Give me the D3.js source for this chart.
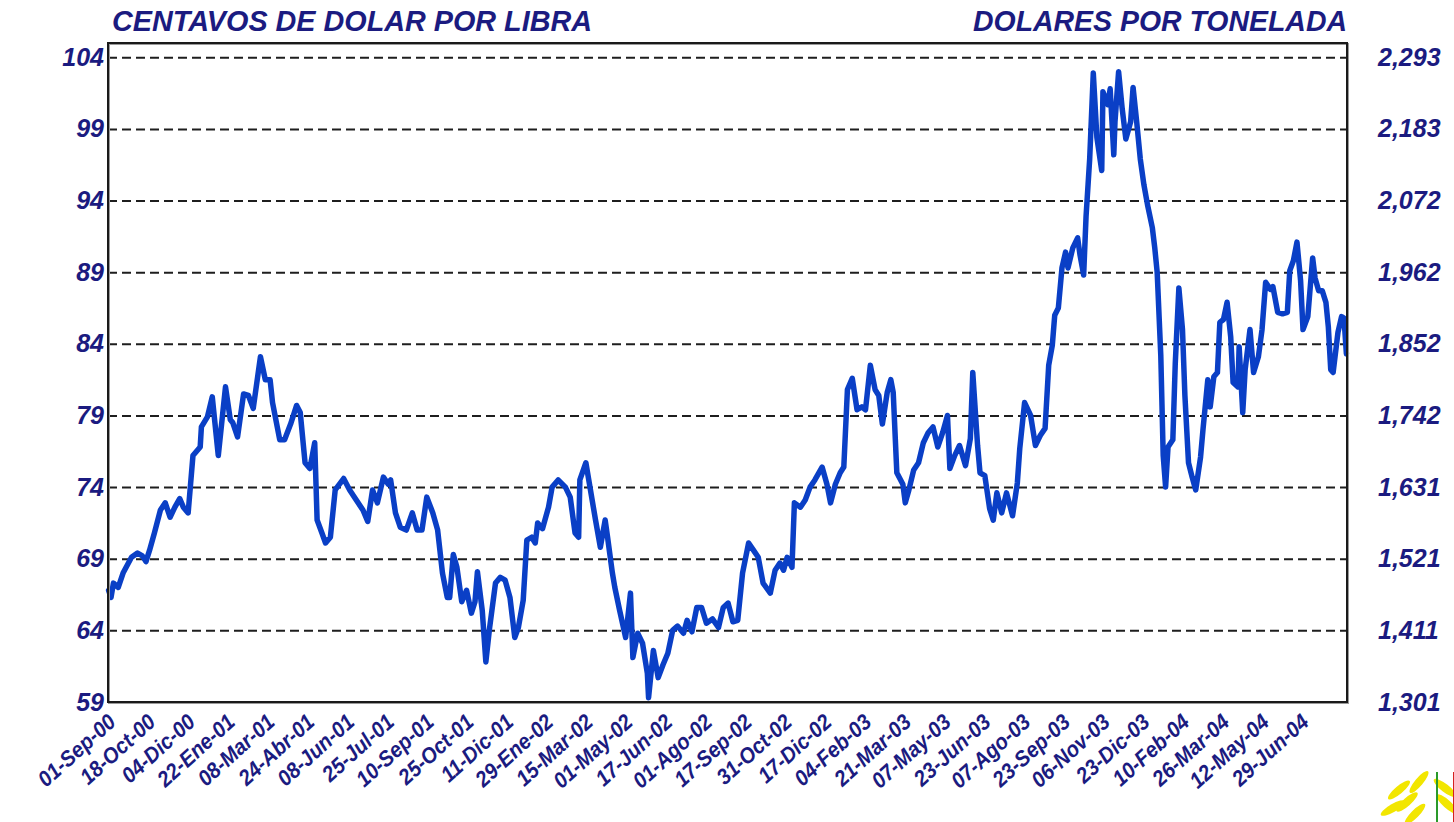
<!DOCTYPE html>
<html>
<head>
<meta charset="utf-8">
<script src="https://cdn.jsdelivr.net/npm/d3@7"></script>
<style>
  html, body { margin: 0; padding: 0; background: #fff; }
  svg { display: block; }
  text { font-family: "Liberation Sans", Arial, sans-serif; font-weight: bold; font-style: italic; fill: #1b1b80; }
</style>
</head>
<body>
<div id="app"></div>
<script>
// category labels on the x axis (one every 33 trading days)
const xLabels = [
  '01-Sep-00', '18-Oct-00', '04-Dic-00', '22-Ene-01', '08-Mar-01', '24-Abr-01', '08-Jun-01',
  '25-Jul-01', '10-Sep-01', '25-Oct-01', '11-Dic-01', '29-Ene-02', '15-Mar-02', '01-May-02',
  '17-Jun-02', '01-Ago-02', '17-Sep-02', '31-Oct-02', '17-Dic-02', '04-Feb-03', '21-Mar-03',
  '07-May-03', '23-Jun-03', '07-Ago-03', '23-Sep-03', '06-Nov-03', '23-Dic-03', '10-Feb-04',
  '26-Mar-04', '12-May-04', '29-Jun-04'
];
const labelStep = 33;
const nDays = 1028;

// trading-day index and price (cents of dollar per pound)
const dayIdx = [
  0, 2, 4, 8, 12, 19, 24, 28, 31, 34, 38, 43, 47, 51, 55, 59, 62, 66, 70, 76,
  77, 82, 86, 91, 97, 101, 103, 107, 112, 116, 120, 126, 130, 134, 136, 142, 146, 151, 156, 159,
  163, 167, 171, 173, 177, 180, 184, 188, 195, 200, 207, 211, 215, 219, 223, 228, 232, 234, 238, 242,
  247, 252, 256, 260, 264, 269, 273, 277, 281, 283, 286, 289, 293, 297, 301, 304, 306, 310, 313, 316,
  321, 325, 329, 333, 337, 340, 344, 347, 351, 354, 356, 360, 365, 368, 373, 379, 383, 387, 390, 391,
  396, 399, 404, 408, 412, 414, 418, 420, 424, 429, 433, 435, 439, 443, 447, 448, 452, 456, 460, 464,
  468, 472, 477, 480, 484, 488, 492, 496, 501, 506, 510, 514, 518, 522, 526, 531, 535, 539, 543, 549,
  553, 557, 560, 563, 567, 569, 574, 578, 582, 586, 592, 596, 599, 603, 607, 610, 613, 617, 621, 625,
  628, 632, 636, 639, 642, 646, 649, 651, 654, 659, 661, 664, 668, 672, 676, 680, 684, 688, 692, 696,
  698, 702, 706, 711, 715, 717, 721, 723, 727, 731, 734, 737, 741, 745, 750, 754, 756, 760, 765, 769,
  773, 777, 780, 783, 785, 788, 791, 794, 796, 800, 804, 806, 809, 811, 814, 817, 820, 824, 825, 829,
  831, 834, 835, 838, 841, 844, 848, 850, 853, 856, 859, 862, 866, 868, 870, 873, 875, 877, 879, 883,
  885, 888, 891, 893, 896, 899, 902, 906, 908, 912, 914, 917, 920, 922, 925, 928, 931, 933, 937, 938,
  941, 943, 947, 950, 954, 957, 960, 964, 966, 970, 974, 978, 980, 983, 986, 989, 991, 995, 999, 1001,
  1004, 1007, 1010, 1012, 1014, 1016, 1020, 1023, 1025, 1027
];
const cents = [
  66.8, 66.3, 67.3, 67.0, 68.0, 69.1, 69.4, 69.2, 68.8, 69.6, 70.8, 72.4, 72.9, 71.9, 72.6, 73.2, 72.6, 72.2, 76.2, 76.8,
  78.2, 78.9, 80.3, 76.2, 81.0, 78.7, 78.5, 77.5, 80.5, 80.4, 79.5, 83.1, 81.5, 81.5, 79.9, 77.3, 77.3, 78.4, 79.7, 79.2,
  75.7, 75.3, 77.1, 71.7, 70.8, 70.1, 70.5, 73.8, 74.6, 73.8, 72.9, 72.4, 71.6, 73.8, 72.9, 74.7, 74.2, 74.5, 72.2, 71.2,
  71.0, 72.2, 71.0, 71.0, 73.3, 72.2, 71.0, 68.0, 66.3, 66.3, 69.3, 68.4, 66.0, 66.8, 65.2, 66.0, 68.1, 65.4, 61.8, 64.1,
  67.3, 67.7, 67.5, 66.3, 63.5, 64.2, 66.1, 70.3, 70.5, 70.1, 71.5, 71.1, 72.6, 74.0, 74.5, 74.0, 73.3, 70.8, 70.5, 74.5,
  75.7, 74.2, 71.7, 69.8, 71.7, 70.5, 68.0, 67.0, 65.4, 63.5, 66.6, 62.1, 63.8, 63.1, 61.0, 59.3, 62.6, 60.7, 61.6, 62.4,
  64.0, 64.3, 63.8, 64.7, 63.9, 65.6, 65.6, 64.5, 64.8, 64.2, 65.6, 65.9, 64.6, 64.7, 68.0, 70.1, 69.6, 69.1, 67.3, 66.6,
  68.2, 68.7, 68.2, 69.1, 68.4, 72.9, 72.6, 73.1, 74.0, 74.5, 75.4, 74.2, 72.9, 74.2, 75.0, 75.4, 80.8, 81.6, 79.4, 79.6,
  79.4, 82.5, 80.8, 80.4, 78.4, 80.6, 81.5, 80.6, 75.0, 74.2, 72.9, 73.8, 75.2, 75.7, 77.1, 77.8, 78.2, 76.8, 77.8, 79.0,
  75.3, 76.2, 76.9, 75.5, 77.4, 82.0, 76.9, 75.0, 74.8, 72.5, 71.7, 73.6, 72.2, 73.6, 72.0, 74.3, 76.7, 79.9, 79.0, 76.9,
  77.6, 78.1, 82.5, 83.9, 86.0, 86.5, 89.3, 90.4, 89.3, 90.7, 91.4, 90.2, 88.8, 92.9, 96.9, 102.9, 98.4, 96.1, 101.6, 100.7,
  101.8, 97.2, 99.5, 103.0, 100.4, 98.3, 99.5, 101.9, 99.5, 96.9, 95.1, 93.7, 92.1, 90.7, 89.0, 83.2, 76.2, 74.0, 76.8, 77.3,
  82.6, 87.9, 85.0, 80.4, 75.7, 74.7, 73.8, 76.1, 78.0, 81.5, 79.6, 81.7, 82.0, 85.5, 85.7, 86.9, 84.5, 81.3, 81.0, 83.8,
  79.2, 82.2, 85.0, 82.0, 83.1, 85.0, 88.3, 87.8, 88.0, 86.2, 86.1, 86.2, 89.1, 89.8, 91.1, 88.4, 85.0, 85.9, 90.0, 88.6,
  87.7, 87.7, 86.9, 85.2, 82.2, 82.0, 84.8, 85.9, 85.8, 83.3
];

// left axis ticks (cents/lb); right axis shows the same levels in $/ton
const leftTicks = [59, 64, 69, 74, 79, 84, 89, 94, 99, 104];
const lbPerTon = 22.0462;

const width = 1454;
const height = 822;
const plot = { left: 108, right: 1347, top: 43, bottom: 702 };

const svg = d3.select('#app')
  .append('svg')
  .attr('width', width)
  .attr('height', height);

const x = d3.scaleLinear()
  .domain([-0.5, nDays - 0.5])
  .range([plot.left, plot.right]);

const y = d3.scaleLinear()
  .domain([59, 105])
  .range([plot.bottom, plot.top]);

const series = dayIdx.map((d, i) => [d, cents[i]]);

// titles
svg.append('text')
  .attr('x', 112).attr('y', 31)
  .attr('font-size', 29)
  .attr('textLength', 480).attr('lengthAdjust', 'spacingAndGlyphs')
  .text('CENTAVOS DE DOLAR POR LIBRA');

svg.append('text')
  .attr('x', 973).attr('y', 31)
  .attr('font-size', 29)
  .attr('textLength', 374).attr('lengthAdjust', 'spacingAndGlyphs')
  .text('DOLARES POR TONELADA');

// dashed gridlines
svg.append('g')
  .attr('class', 'grid')
  .attr('transform', `translate(${plot.left},0)`)
  .call(d3.axisLeft(y).tickValues(leftTicks.filter(d => d > 59)).tickSize(-(plot.right - plot.left)).tickFormat(''))
  .call(g => g.select('.domain').remove())
  .call(g => g.selectAll('line')
    .attr('stroke', '#1e1e1e')
    .attr('stroke-width', 2)
    .attr('stroke-dasharray', '9,5'));

// price line
svg.append('path')
  .datum(series)
  .attr('fill', 'none')
  .attr('stroke', '#0a3fc6')
  .attr('stroke-width', 5.5)
  .attr('stroke-linejoin', 'round')
  .attr('stroke-linecap', 'round')
  .attr('d', d3.line().x(d => x(d[0])).y(d => y(d[1])));

// frame
svg.append('rect')
  .attr('x', plot.left + 1).attr('y', plot.top + 1)
  .attr('width', plot.right - plot.left).attr('height', plot.bottom - plot.top)
  .attr('fill', 'none').attr('stroke', '#9a9a9a').attr('stroke-width', 2);
svg.append('rect')
  .attr('x', plot.left).attr('y', plot.top)
  .attr('width', plot.right - plot.left).attr('height', plot.bottom - plot.top)
  .attr('fill', 'none').attr('stroke', '#1a1a1a').attr('stroke-width', 2);

// left axis
svg.append('g')
  .attr('transform', `translate(${plot.left},0)`)
  .call(d3.axisLeft(y).tickValues(leftTicks).tickSize(0).tickPadding(4))
  .call(g => g.select('.domain').remove())
  .call(g => g.selectAll('text')
    .attr('font-size', 25)
    .attr('font-family', null)
    .attr('fill', null));

// right axis in dollars per ton
svg.append('g')
  .attr('transform', `translate(${plot.right},0)`)
  .call(d3.axisRight(y).tickValues(leftTicks).tickSize(0).tickPadding(31)
    .tickFormat(d => d3.format(',.0f')(d * lbPerTon)))
  .call(g => g.select('.domain').remove())
  .call(g => g.selectAll('text')
    .attr('font-size', 25)
    .attr('font-family', null)
    .attr('fill', null));

// x axis with rotated date labels
svg.append('g')
  .attr('transform', `translate(0,${plot.bottom})`)
  .call(d3.axisBottom(x)
    .tickValues(xLabels.map((d, i) => i * labelStep))
    .tickFormat((d, i) => xLabels[i])
    .tickSize(0))
  .call(g => g.select('.domain').remove())
  .call(g => g.selectAll('text')
    .attr('font-size', 22)
    .attr('font-family', null)
    .attr('fill', null)
    .attr('text-anchor', 'end')
    .attr('x', 0).attr('y', 0).attr('dy', 0)
    .attr('transform', 'translate(8,22) rotate(-42) scale(0.92,1)'));

// small leaf logo in the corner
const logo = svg.append('g').attr('transform', 'translate(1425,802)');
[[-26, -12, -40], [-18, 0, -42], [-10, 12, -45], [-32, 6, -30], [-6, -20, -50], [20, -14, 38], [22, 2, 42]].forEach(d => {
  logo.append('ellipse')
    .attr('cx', d[0]).attr('cy', d[1]).attr('rx', 14).attr('ry', 4)
    .attr('transform', `rotate(${d[2]},${d[0]},${d[1]})`)
    .attr('fill', '#f2e600');
});
logo.append('line')
  .attr('x1', 12).attr('x2', 12).attr('y1', -30).attr('y2', 24)
  .attr('stroke', '#2a9a2a').attr('stroke-width', 2);
logo.append('line')
  .attr('x1', 29).attr('x2', 29).attr('y1', -30).attr('y2', 24)
  .attr('stroke', '#d42020').attr('stroke-width', 2);
</script>
</body>
</html>
